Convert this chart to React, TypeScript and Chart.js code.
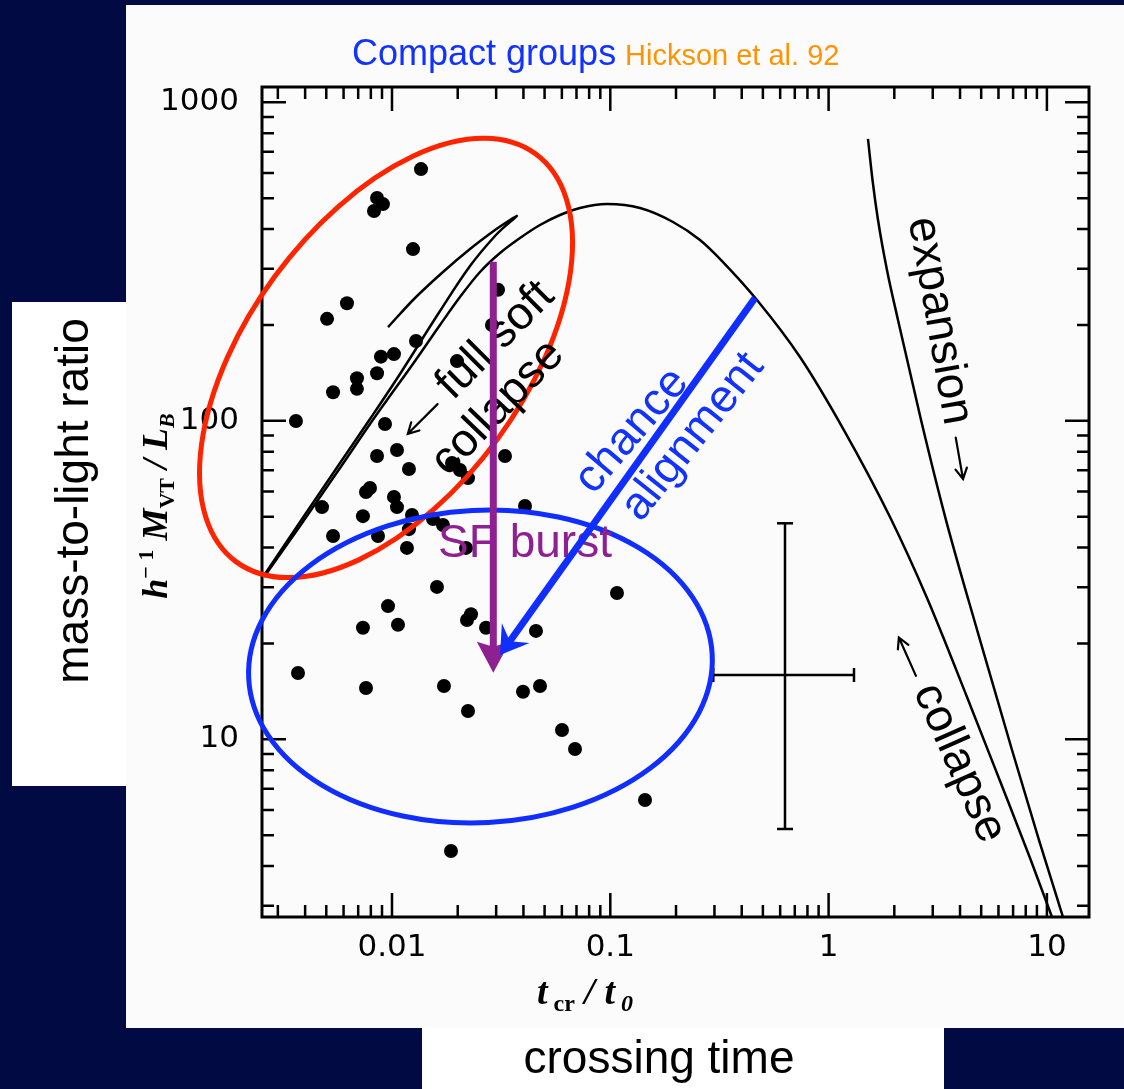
import React, { useEffect, useRef } from 'react';
import { Chart, registerables } from 'chart.js';

Chart.register(...registerables);

// ---- data ----
const GROUP_X = [0.01358, 0.00854, 0.00909, 0.00827, 0.01248, 0.00622, 0.00504, 0.01288, 0.01021, 0.0089,
  0.01985, 0.00691, 0.00854, 0.00691, 0.00537, 0.0306, 0.0287, 0.00363, 0.00929, 0.01054,
  0.00854, 0.01196, 0.00793, 0.0076, 0.01021, 0.01054, 0.00478, 0.00736, 0.01235, 0.00537,
  0.00863, 0.01196, 0.01171, 0.01541, 0.01712, 0.01883, 0.02048, 0.02229, 0.03293, 0.04067,
  0.02183, 0.01607, 0.1073, 0.00959, 0.00736, 0.01065, 0.02206, 0.02301, 0.02696, 0.04566,
  0.00371, 0.0076, 0.0173, 0.03982, 0.04764, 0.02229, 0.06007, 0.06892, 0.1442, 0.01863];
const GROUP_Y = [617, 501, 479, 456, 346, 234, 209, 178, 162, 159,
  154, 136, 141, 126, 123, 258, 200, 99.9, 97.7, 81.0,
  77.5, 70.6, 61.5, 59.8, 57.7, 53.6, 53.6, 50.2, 50.6, 43.5,
  43.5, 45.7, 39.9, 49.2, 47.1, 73.7, 70.1, 66.1, 77.5, 54.0,
  39.9, 30.1, 28.8, 26.2, 22.4, 22.9, 23.7, 24.7, 22.4, 21.9,
  16.15, 14.5, 14.7, 14.1, 14.7, 12.27, 10.7, 9.32, 6.45, 4.46];

const HUMP_X = [0.002593, 0.00379, 0.00578, 0.00793, 0.009487, 0.01275, 0.01659, 0.02048, 0.0253, 0.03125,
  0.03858, 0.04764, 0.05883, 0.07264, 0.09658, 0.1368, 0.1937, 0.2576, 0.3283, 0.4699,
  0.7396, 1.189, 1.911, 2.824, 4.305, 6.099, 8.368, 10.55];
const HUMP_Y = [32.33, 46.74, 71.1, 97.7, 116.2, 154.1, 199.9, 244.7, 293.3, 336.4,
  374.9, 411.9, 442.7, 465.7, 479, 465.7, 421.0, 369.6, 315.2, 239.5,
  158.6, 92.2, 49.88, 27.77, 13.58, 7.396, 4.24, 2.767];

const SOFT_X = [0.00959, 0.01275, 0.01712, 0.02277, 0.02964, 0.03471, 0.03737, 0.03471, 0.02964, 0.02277,
  0.01659, 0.01088, 0.00793, 0.00578, 0.00379, 0.002619];
const SOFT_Y = [197.0, 243.0, 293.3, 346.2, 397.2, 427.1, 439.5, 421.0, 380.4, 306.2,
  221.2, 140.3, 101.3, 73.7, 48.1, 33.04];

const EXPANSION_X = [1.515, 1.589, 1.684, 1.851, 2.079, 2.651, 3.45, 4.835, 6.921, 9.2, 11.85];
const EXPANSION_Y = [767.3, 570.2, 427.1, 297.5, 207.3, 100.6, 48.8, 21.56, 9.256, 4.829, 2.767];

const ERRBAR_X = [0.2963, 0.6313, 1.307];
const ERRBAR_Y = [5.23, 15.92, 47.67];

const X_TICKS = [0.01, 0.1, 1, 10];
const Y_TICKS = [10, 100, 1000];
const X_RANGE = [0.002538, 15.59];
const Y_RANGE = [2.768, 1117];

// annotation geometry in data coordinates: centre, major-axis tip, minor-axis tip
const RED_ELLIPSE = [[0.00939, 157.5], [0.04557, 687.7], [0.03033, 87.3]];
const BLUE_ELLIPSE = [[0.02542, 16.93], [0.2929, 18.47], [0.02773, 5.48]];
const SF_ARROW = [[0.02911, 315.9], [0.02911, 16.18]];
const CHANCE_ARROW = [[0.4601, 243.0], [0.03125, 18.4]];

const LABEL_TEXT = ['\u2190 full soft', 'collapse', 'chance', 'alignment', 'SF burst', 'expansion \u2192', '\u2190 collapse'];
const LABEL_X = [0.02425, 0.0306, 0.1257, 0.2392, 0.04067, 3.377, 3.524];
const LABEL_Y = [155.2, 109.7, 92.9, 88.96, 41.05, 169.3, 10.09];
const LABEL_ROT = [-45, -46, -49.5, -51.5, 0, 80, 66];
const LABEL_COLOR = ['#000000', '#000000', '#1232FF', '#1232FF', '#8E2092', '#000000', '#000000'];

const NAVY = '#020A44';
const PANEL = '#FBFBFB';
const SANS = '"Liberation Sans", Arial, Helvetica, sans-serif';
const SERIF = '"Liberation Serif", "Times New Roman", serif';

const zip = (xs: number[], ys: number[]) => xs.map((x, i) => ({ x, y: ys[i] }));

function drawParts(ctx: CanvasRenderingContext2D, parts: { t: string; font: string; dy: number }[], cx: number, cy: number, rot: number) {
  ctx.save();
  ctx.translate(cx, cy);
  ctx.rotate(rot);
  let total = 0;
  parts.forEach(p => { ctx.font = p.font; total += ctx.measureText(p.t).width; });
  let x = -total / 2;
  ctx.textAlign = 'left';
  ctx.textBaseline = 'alphabetic';
  ctx.fillStyle = '#000';
  parts.forEach(p => { ctx.font = p.font; ctx.fillText(p.t, x, p.dy); x += ctx.measureText(p.t).width; });
  ctx.restore();
}

function lineArrow(ctx: CanvasRenderingContext2D, x0: number, y0: number, x1: number, y1: number) {
  const ang = Math.atan2(y1 - y0, x1 - x0);
  ctx.beginPath();
  ctx.moveTo(x0, y0);
  ctx.lineTo(x1, y1);
  ctx.moveTo(x1 - 12 * Math.cos(ang - 0.5), y1 - 12 * Math.sin(ang - 0.5));
  ctx.lineTo(x1, y1);
  ctx.lineTo(x1 - 12 * Math.cos(ang + 0.5), y1 - 12 * Math.sin(ang + 0.5));
  ctx.stroke();
}

function drawLabel(ctx: CanvasRenderingContext2D, text: string, x: number, y: number, rotDeg: number, color: string) {
  ctx.save();
  ctx.translate(x, y);
  ctx.rotate(rotDeg * Math.PI / 180);
  ctx.font = `46px ${SANS}`;
  ctx.fillStyle = color;
  ctx.strokeStyle = color;
  ctx.lineWidth = 2.2;
  ctx.lineCap = 'round';
  ctx.textBaseline = 'middle';
  ctx.textAlign = 'left';
  const left = text.startsWith('\u2190');
  const right = text.endsWith('\u2192');
  const core = text.replace('\u2190', '').replace('\u2192', '').trim();
  const AW = 42, GAP = 13, AY = 4;
  const tw = ctx.measureText(core).width;
  const total = tw + (left ? AW + GAP : 0) + (right ? AW + GAP : 0);
  let cx = -total / 2;
  if (left) { lineArrow(ctx, cx + AW, AY, cx, AY); cx += AW + GAP; }
  ctx.fillText(core, cx, 0);
  cx += tw;
  if (right) { cx += GAP; lineArrow(ctx, cx, AY, cx + AW, AY); }
  ctx.restore();
}

function drawArrow(ctx: CanvasRenderingContext2D, x0: number, y0: number, x1: number, y1: number, color: string,
  width: number, headLen: number, headHalf: number, notch: number) {
  const ang = Math.atan2(y1 - y0, x1 - x0);
  ctx.save();
  ctx.strokeStyle = color;
  ctx.fillStyle = color;
  ctx.lineWidth = width;
  ctx.lineCap = 'butt';
  ctx.beginPath();
  ctx.moveTo(x0, y0);
  ctx.lineTo(x1 - Math.cos(ang) * (headLen - notch - 1), y1 - Math.sin(ang) * (headLen - notch - 1));
  ctx.stroke();
  ctx.translate(x1, y1);
  ctx.rotate(ang);
  ctx.beginPath();
  ctx.moveTo(0, 0);
  ctx.lineTo(-headLen, -headHalf);
  ctx.lineTo(-headLen + notch, 0);
  ctx.lineTo(-headLen, headHalf);
  ctx.closePath();
  ctx.fill();
  ctx.restore();
}

const decor = {
  id: 'decor',
  beforeDraw(chart: any) {
    const ctx = chart.ctx as CanvasRenderingContext2D;
    ctx.save();
    ctx.fillStyle = NAVY;
    ctx.fillRect(0, 0, chart.width, chart.height);
    ctx.fillStyle = PANEL;
    ctx.fillRect(126, 5, chart.width - 126, 1023);
    ctx.fillStyle = '#FFFFFF';
    ctx.fillRect(12, 302, 114, 484);
    ctx.fillRect(422, 1028, 522, 61);

    ctx.fillStyle = '#000';
    ctx.font = `46px ${SANS}`;
    ctx.textAlign = 'center';
    ctx.textBaseline = 'middle';
    ctx.fillText('crossing time', 659, 1060);
    ctx.save();
    ctx.translate(75, 501);
    ctx.rotate(-Math.PI / 2);
    ctx.fillText('mass-to-light ratio', 0, 0);
    ctx.restore();

    // title
    ctx.textAlign = 'left';
    ctx.textBaseline = 'alphabetic';
    ctx.font = `36px ${SANS}`;
    ctx.fillStyle = '#1232FF';
    ctx.fillText('Compact groups', 352, 65);
    ctx.font = `29px ${SANS}`;
    ctx.fillStyle = '#FF9300';
    ctx.fillText('Hickson et al. 92', 625, 65);

    // axis titles
    const bi = `italic bold 36px ${SERIF}`;
    const bs = `bold 22px ${SERIF}`;
    const bis = `italic bold 22px ${SERIF}`;
    drawParts(ctx, [
      { t: 'h', font: bi, dy: 0 },
      { t: '\u2212\u00A01', font: bs, dy: -14 },
      { t: ' M', font: bi, dy: 0 },
      { t: 'VT', font: bs, dy: 7 },
      { t: ' / ', font: bi, dy: 0 },
      { t: 'L', font: bi, dy: 0 },
      { t: 'B', font: bis, dy: 7 },
    ], 167, 506, -Math.PI / 2);
    const xi = `italic bold 38px ${SERIF}`;
    const xs = `bold 24px ${SERIF}`;
    const xis = `italic bold 24px ${SERIF}`;
    drawParts(ctx, [
      { t: 't', font: xi, dy: 0 },
      { t: ' cr', font: xs, dy: 7 },
      { t: ' / ', font: xi, dy: 0 },
      { t: 't', font: xi, dy: 0 },
      { t: ' 0', font: xis, dy: 7 },
    ], 585, 1004, 0);
    ctx.restore();
  },
  afterDatasetsDraw(chart: any) {
    const ctx = chart.ctx as CanvasRenderingContext2D;
    const xs = chart.scales.x;
    const ys = chart.scales.y;
    const a = chart.chartArea;
    const px = (v: number) => xs.getPixelForValue(v);
    const py = (v: number) => ys.getPixelForValue(v);
    ctx.save();
    // frame
    ctx.strokeStyle = '#000';
    ctx.lineWidth = 3;
    ctx.strokeRect(a.left, a.top, a.right - a.left, a.bottom - a.top);
    // ticks on all four sides
    ctx.lineWidth = 2.5;
    ctx.beginPath();
    for (let e = -3; e <= 3; e++) {
      for (let m = 1; m <= 9; m++) {
        const v = m * Math.pow(10, e);
        const len = m === 1 ? 24 : 12;
        if (v > X_RANGE[0] && v < X_RANGE[1]) {
          const x = px(v);
          ctx.moveTo(x, a.bottom); ctx.lineTo(x, a.bottom - len);
          ctx.moveTo(x, a.top); ctx.lineTo(x, a.top + len);
        }
        if (v > Y_RANGE[0] && v < Y_RANGE[1]) {
          const y = py(v);
          ctx.moveTo(a.left, y); ctx.lineTo(a.left + len, y);
          ctx.moveTo(a.right, y); ctx.lineTo(a.right - len, y);
        }
      }
    }
    ctx.stroke();

    // ellipses
    const ell = (E: number[][], color: string) => {
      const cx = px(E[0][0]), cy = py(E[0][1]);
      const ax = px(E[1][0]) - cx, ay = py(E[1][1]) - cy;
      const bx = px(E[2][0]) - cx, by = py(E[2][1]) - cy;
      ctx.beginPath();
      ctx.ellipse(cx, cy, Math.hypot(ax, ay), Math.hypot(bx, by), Math.atan2(ay, ax), 0, Math.PI * 2);
      ctx.strokeStyle = color;
      ctx.lineWidth = 5;
      ctx.stroke();
    };
    ell(RED_ELLIPSE, '#FF2400');
    ell(BLUE_ELLIPSE, '#0F2EFF');

    // labels
    LABEL_TEXT.forEach((t, i) => {
      drawLabel(ctx, t, px(LABEL_X[i]), py(LABEL_Y[i]), LABEL_ROT[i], LABEL_COLOR[i]);
    });

    // arrows
    drawArrow(ctx, px(SF_ARROW[0][0]), py(SF_ARROW[0][1]), px(SF_ARROW[1][0]), py(SF_ARROW[1][1]), '#8E2092', 7, 31, 16.5, 5);
    drawArrow(ctx, px(CHANCE_ARROW[0][0]), py(CHANCE_ARROW[0][1]), px(CHANCE_ARROW[1][0]), py(CHANCE_ARROW[1][1]), '#0F2EFF', 7, 27, 17, 10);
    ctx.restore();
  },
};

export default function App() {
  const ref = useRef<HTMLCanvasElement>(null);
  useEffect(() => {
    const canvas = ref.current;
    if (!canvas) return;
    const lineDs = (data: any[], monotone: boolean) => ({
      data,
      showLine: true,
      borderColor: '#000',
      borderWidth: 2.5,
      pointRadius: 0,
      tension: 0.35,
      cubicInterpolationMode: monotone ? 'monotone' : 'default',
      fill: false,
    });
    const chart = new Chart(canvas, {
      type: 'scatter',
      data: {
        datasets: [
          lineDs(zip(HUMP_X, HUMP_Y), true),
          lineDs(zip(SOFT_X, SOFT_Y), false),
          lineDs(zip(EXPANSION_X, EXPANSION_Y), true),
          {
            data: [{ x: ERRBAR_X[1], y: ERRBAR_Y[0] }, { x: ERRBAR_X[1], y: ERRBAR_Y[2] }],
            showLine: true, borderColor: '#000', borderWidth: 2.5, tension: 0,
            pointStyle: 'line', pointRadius: 8, pointBorderWidth: 2.5, pointBorderColor: '#000',
          } as any,
          {
            data: [{ x: ERRBAR_X[0], y: ERRBAR_Y[1] }, { x: ERRBAR_X[2], y: ERRBAR_Y[1] }],
            showLine: true, borderColor: '#000', borderWidth: 2.5, tension: 0,
            pointStyle: 'line', pointRotation: 90, pointRadius: 7, pointBorderWidth: 2.5, pointBorderColor: '#000',
          } as any,
          {
            data: zip(GROUP_X, GROUP_Y),
            pointRadius: 7,
            pointBackgroundColor: '#000',
            pointBorderWidth: 0,
            showLine: false,
          } as any,
        ],
      },
      options: {
        animation: false,
        responsive: false,
        devicePixelRatio: 1,
        layout: { padding: { left: 126, right: 35, top: 87, bottom: 112 } },
        plugins: { legend: { display: false }, tooltip: { enabled: false } },
        scales: {
          x: {
            type: 'logarithmic',
            min: X_RANGE[0],
            max: X_RANGE[1],
            bounds: 'data',
            grid: { display: false, drawTicks: false },
            border: { display: false },
            afterFit: (s: any) => { s.height = 60; },
            afterBuildTicks: (s: any) => { s.ticks = X_TICKS.map(v => ({ value: v })); },
            ticks: {
              padding: 12,
              color: '#000',
              font: { family: '"DejaVu Sans", sans-serif', size: 31 },
              callback: (v: any) => String(v),
              maxRotation: 0,
              autoSkip: false,
            },
          },
          y: {
            type: 'logarithmic',
            min: Y_RANGE[0],
            max: Y_RANGE[1],
            bounds: 'data',
            grid: { display: false, drawTicks: false },
            border: { display: false },
            afterFit: (s: any) => { s.width = 136; },
            afterBuildTicks: (s: any) => { s.ticks = Y_TICKS.map(v => ({ value: v })); },
            ticks: {
              padding: 23,
              color: '#000',
              font: { family: '"DejaVu Sans", sans-serif', size: 31 },
              callback: (v: any) => String(v),
              autoSkip: false,
            },
          },
        },
      } as any,
      plugins: [decor],
    });
    return () => chart.destroy();
  }, []);
  return (
    <div style={{ position: 'fixed', left: 0, top: 0, width: 1124, height: 1089 }}>
      <canvas ref={ref} width={1124} height={1089} style={{ display: 'block' }} />
    </div>
  );
}
